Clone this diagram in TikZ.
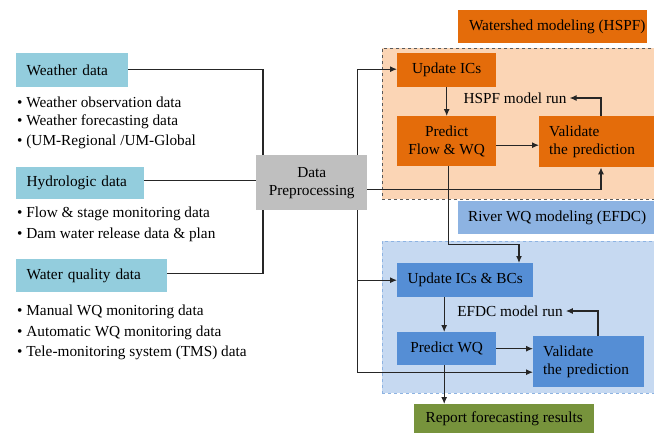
\documentclass[tikz,border=0pt]{standalone}
\usepackage{fontspec}
\setmainfont{Liberation Serif}
\usetikzlibrary{arrows.meta}
\definecolor{srcblue}{HTML}{93CDDD}
\definecolor{prepgrey}{HTML}{BFBFBF}
\definecolor{hspforange}{HTML}{E46C0A}
\definecolor{peach}{HTML}{FBD5B5}
\definecolor{efdcblue}{HTML}{558ED5}
\definecolor{regionblue}{HTML}{C6D9F1}
\definecolor{riverblue}{HTML}{8DB3E2}
\definecolor{dashblue}{HTML}{8DB3E2}
\definecolor{reportgreen}{HTML}{77933C}
\begin{document}
\begin{tikzpicture}[x=1pt,y=-1pt,
  font=\fontsize{15.3}{18}\selectfont,
  boxbase/.style={rectangle, anchor=north west, inner xsep=10pt, inner ysep=0pt},
  srcbox/.style={boxbase, fill=srcblue, align=left},
  prepbox/.style={boxbase, fill=prepgrey, align=center},
  orbox/.style={boxbase, fill=hspforange, align=center},
  blbox/.style={boxbase, fill=efdcblue, align=center},
  leftbox/.style={align=left},
  bullet/.style={anchor=west, inner sep=0pt},
  conn/.style={line width=1.1pt, black!85},
  arr/.style={conn, -{Latex[length=7pt,width=6pt]}},
  lbl/.style={inner sep=3pt}
]
\useasboundingbox (0,0) rectangle (654,434);
\clip (0,0) rectangle (654,434);

% regions
\node[boxbase, fill=peach, draw=black!65, dashed, line width=0.8pt,
      minimum width=290pt, minimum height=151pt] (hspfreg) at (382,48) {};
\node[boxbase, fill=regionblue, draw=dashblue, dashed, line width=0.8pt,
      minimum width=290pt, minimum height=152pt] (efdcreg) at (382,241) {};

% region labels
\node[orbox, minimum width=189pt, minimum height=33pt, inner xsep=0pt] (wslabel) at (458,10) {\hspace*{9pt}Watershed modeling (HSPF)};
\node[boxbase, fill=riverblue, minimum width=198pt, minimum height=33pt, inner xsep=0pt, align=center] (riverlabel) at (458,201) {River WQ modeling (EFDC)};

% sources
\node[srcbox, minimum width=112pt, text width=91pt, minimum height=34pt] (weather) at (16,53) {Weather data};
\node[srcbox, minimum width=128pt, text width=107pt, minimum height=32pt] (hydro) at (16,167) {Hydrologic data};
\node[srcbox, minimum width=151pt, text width=130pt, minimum height=33pt] (wq) at (16,259) {Water quality data};

\node[bullet] (b1) at (17,102) {• Weather observation data};
\node[bullet] (b2) at (17,122) {• Weather forecasting data};
\node[bullet] (b3) at (17,142) {• (UM-Regional /UM-Global};
\node[bullet] (b4) at (17,214) {• Flow \& stage monitoring data};
\node[bullet] (b5) at (17,235) {• Dam water release data \& plan};
\node[bullet] (b6) at (17,312) {• Manual WQ monitoring data};
\node[bullet] (b7) at (17,333) {• Automatic WQ monitoring data};
\node[bullet] (b8) at (17,353) {• Tele-monitoring system (TMS) data};

% preprocessing
\node[prepbox, minimum width=111pt, minimum height=55pt] (prep) at (256,155) {Data\\Preprocessing};

% HSPF
\node[orbox, minimum width=99pt, minimum height=34pt] (upd) at (397,53) {Update ICs};
\node[orbox, minimum width=99pt, minimum height=50pt] (pred1) at (397,116) {Predict\\Flow \& WQ};
\node[orbox, minimum width=130pt, minimum height=51pt, text width=110pt, leftbox] (val1) at (539,116) {Validate\\the prediction};
\node[lbl] (hspf) at (515,98) {HSPF model run};

% EFDC
\node[blbox, minimum width=136pt, minimum height=34pt] (updbc) at (397,263) {Update ICs \& BCs};
\node[blbox, minimum width=99pt, minimum height=33pt] (predwq) at (397,332) {Predict WQ};
\node[blbox, minimum width=111pt, minimum height=51pt, text width=91pt, leftbox] (val2) at (533,336) {Validate\\the prediction};
\node[lbl] (efdc) at (510,311) {EFDC model run};

% report
\node[boxbase, fill=reportgreen, minimum width=180pt, minimum height=29pt, align=center] (report) at (414,404) {Report forecasting results};

% helper coordinates
\coordinate (wqtop) at ([xshift=-2.5pt]predwq.north);
\coordinate (wqbot) at ([xshift=-2.5pt]predwq.south);

% connectors: sources to preprocessing
\draw[conn] ([yshift=1pt]weather.east) -| ([xshift=7pt]prep.north west);
\draw[conn] ([yshift=3pt]hydro.east) -- ([yshift=3pt]hydro.east -| prep.west);
\draw[conn] ([yshift=2.5pt]wq.east) -| ([xshift=7pt]prep.south west);

% preprocessing to models
\draw[arr] ([xshift=-10pt]prep.north east) |- ([yshift=1pt]upd.west);
\draw[arr] ([yshift=-6.5pt]prep.east) -| ([xshift=62pt]val1.south west);
\draw[arr] ([xshift=-10pt]prep.south east) |- (updbc.west);
\draw[arr] ([xshift=-10pt]prep.south east) |- ([yshift=-10.5pt]val2.west);

% HSPF loop
\draw[arr] (upd.south) -- (pred1.north);
\draw[arr] ([yshift=-4pt]pred1.east) -- ([yshift=-4pt]pred1.east -| val1.west);
\draw[arr] ([xshift=62pt]val1.north west) |- (hspf.east);

% HSPF to EFDC
\draw[arr] ([xshift=1.5pt]pred1.south) -- ++(0,78) -| ([xshift=122pt]updbc.north west);

% EFDC loop
\draw[arr] (updbc.south -| wqtop) -- (wqtop);
\draw[arr] (predwq.east) -- (predwq.east -| val2.west);
\draw[arr] ([xshift=65pt]val2.north west) |- (efdc.east);

% to report
\draw[arr] (wqbot) -- (report.north -| wqbot);
\end{tikzpicture}
\end{document}
